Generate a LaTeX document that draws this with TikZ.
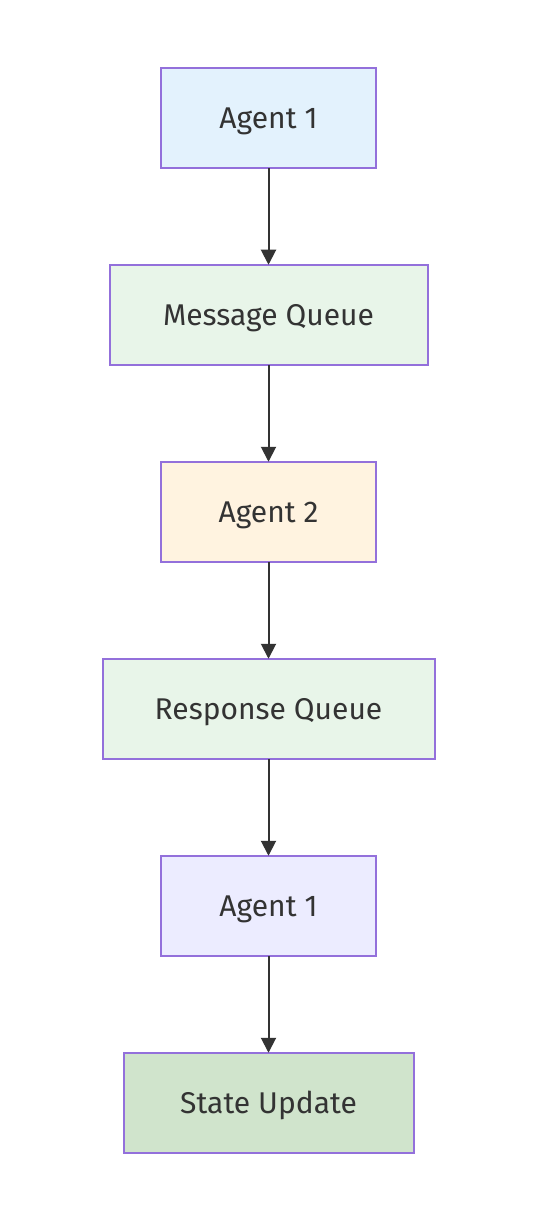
\documentclass[tikz,border=0pt]{standalone}
\usepackage{fontspec}
\setmainfont{Fira Sans}
\usetikzlibrary{positioning,arrows.meta}
\definecolor{edgec}{HTML}{9370DB}
\definecolor{linec}{HTML}{333333}
\definecolor{agentA}{HTML}{E3F2FD}
\definecolor{queue}{HTML}{E8F5E9}
\definecolor{agentB}{HTML}{FFF3E0}
\definecolor{agentC}{HTML}{ECECFF}
\definecolor{state}{HTML}{D0E4CC}
\tikzset{
	box/.style={draw=edgec,line width=2pt,minimum height=100.5pt,inner sep=0,outer sep=0,text height=24pt,text depth=3pt,font=\fontsize{30}{36}\selectfont,text=linec},
	flow/.style={draw=linec,line width=2pt,-{Triangle[length=15pt,width=15pt]}}
}
\begin{document}
\begin{tikzpicture}[x=1pt,y=1pt,node distance=96.5pt]
\useasboundingbox (0,0) rectangle (538,-1222);
\node[box,fill=agentA,minimum width=215pt] (agent1) at (268.5,-118) {Agent 1};
\node[box,fill=queue,minimum width=318pt,below=of agent1] (msgq) {Message Queue};
\node[box,fill=agentB,minimum width=215pt,below=of msgq] (agent2) {Agent 2};
\node[box,fill=queue,minimum width=332pt,below=of agent2] (respq) {Response Queue};
\node[box,fill=agentC,minimum width=215pt,below=of respq] (agent1b) {Agent 1};
\node[box,fill=state,minimum width=290pt,below=of agent1b] (update) {State Update};
\draw[flow] (agent1)--(msgq);
\draw[flow] (msgq)--(agent2);
\draw[flow] (agent2)--(respq);
\draw[flow] (respq)--(agent1b);
\draw[flow] (agent1b)--(update);
\end{tikzpicture}
\end{document}
